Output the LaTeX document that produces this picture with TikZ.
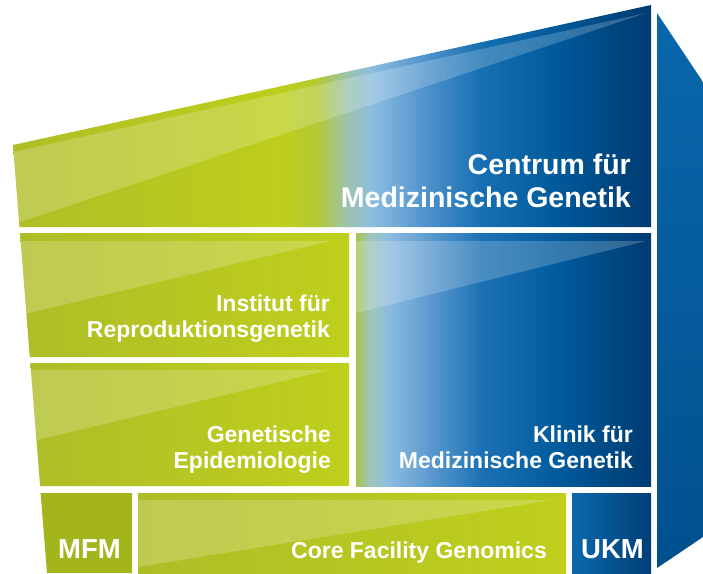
\documentclass[tikz,border=0pt]{standalone}
\usepackage{fontspec}
\setmainfont{Liberation Sans}
\definecolor{gL}{HTML}{AEBD27}
\definecolor{gR}{HTML}{BFCF1C}
\definecolor{gDark}{HTML}{A4B41D}
\definecolor{tA}{HTML}{AEBD27}
\definecolor{tB}{HTML}{BECE1C}
\definecolor{tC}{HTML}{B3C936}
\definecolor{tD}{HTML}{9DC3A8}
\definecolor{tE}{HTML}{8CBDE0}
\definecolor{tF}{HTML}{5596CE}
\definecolor{tG}{HTML}{1670B2}
\definecolor{tH}{HTML}{005899}
\definecolor{tI}{HTML}{003A70}
\definecolor{kA}{HTML}{A6C44E}
\definecolor{kB}{HTML}{A0C5B4}
\definecolor{kC}{HTML}{8DBDE0}
\definecolor{kD}{HTML}{5B99CF}
\definecolor{kE}{HTML}{1C72B4}
\definecolor{kF}{HTML}{005A9B}
\definecolor{kG}{HTML}{003A70}
\definecolor{uL}{HTML}{0A69AD}
\definecolor{uR}{HTML}{003E76}
\definecolor{sT}{HTML}{0A67AB}
\definecolor{sB}{HTML}{00508E}
\begin{document}
\begin{tikzpicture}[x=1pt,y=-1pt,
  lbl/.style={text=white,font=\bfseries\fontsize{23}{26}\selectfont,align=right,inner sep=0pt},
  biglbl/.style={lbl,font=\bfseries\fontsize{28.5}{33}\selectfont},
  boxlbl/.style={lbl,font=\bfseries\fontsize{27.5}{30}\selectfont},
  wedge/.style={fill=white,fill opacity=0.2}]
\useasboundingbox (0,0) rectangle (703,573);

% side face
\shade[top color=sT,bottom color=sB] (657,13) -- (703,82) -- (703,537) -- (657,568) -- cycle;

% top panel: Centrum
\begin{scope}
  \clip (13,145) -- (651,5) -- (651,227) -- (19.5,227) -- cycle;
  \foreach \xa/\ca/\xb/\cb in {0/tA/280/tB,280/tB/318/tC,318/tC/345/tD,345/tD/372/tE,372/tE/420/tF,420/tF/480/tG,480/tG/560/tH,560/tH/652/tI}
    {\shade[left color=\ca,right color=\cb] (\xa,0) rectangle (\xb+0.7,240);}
  \fill[wedge] (0,154.9) -- (646,13) -- (0,228.7) -- cycle;
\end{scope}

% Institut
\begin{scope}
  \clip (20,233) -- (349,233) -- (349,357) -- (29.8,357) -- cycle;
  \shade[left color=gL,right color=gR] (20,233) rectangle (349,357);
  \fill[wedge] (0,241) -- (330,241) -- (0,320) -- cycle;
\end{scope}

% Epidemiologie
\begin{scope}
  \clip (30.3,363) -- (349,363) -- (349,486) -- (40.1,486) -- cycle;
  \shade[left color=gL,right color=gR] (30,363) rectangle (349,486);
  \fill[wedge] (0,370) -- (329,370) -- (0,449) -- cycle;
\end{scope}

% Klinik
\begin{scope}
  \clip (356,233) rectangle (651,486);
  \foreach \xa/\ca/\xb/\cb in {356/kA/368/kB,368/kB/388/kC,388/kC/430/kD,430/kD/480/kE,480/kE/560/kF,560/kF/652/kG}
    {\shade[left color=\ca,right color=\cb] (\xa,230) rectangle (\xb+0.7,490);}
  \fill[wedge] (356,241) -- (646,241) -- (356,313) -- cycle;
\end{scope}

% MFM
\fill[gDark] (40.6,493) -- (132,493) -- (132,573) -- (47,573) -- cycle;

% Core Facility
\begin{scope}
  \clip (138,493) rectangle (566,573);
  \shade[left color=gL,right color=gR] (138,493) rectangle (566,573);
  \fill[wedge] (138,500) -- (552,500) -- (138,567) -- cycle;
\end{scope}

% UKM
\shade[left color=uL,right color=uR] (572,493) rectangle (651,573);

% labels (base anchor = baseline of last line)
\node[biglbl,anchor=base east] (zmg) at (631,207) {Centrum für\\Medizinische Genetik};
\node[lbl,anchor=base east] (irg) at (330,337) {Institut für\\Reproduktionsgenetik};
\node[lbl,anchor=base east] (gep) at (331,468) {Genetische\\Epidemiologie};
\node[lbl,anchor=base east] (kmg) at (633,468) {Klinik für\\Medizinische Genetik};
\node[boxlbl,anchor=base] (mfm) at (89.5,558) {MFM};
\node[lbl,anchor=base east] (cfg) at (547,558) {Core Facility Genomics};
\node[boxlbl,anchor=base] (ukm) at (612.5,558) {UKM};
\end{tikzpicture}
\end{document}
